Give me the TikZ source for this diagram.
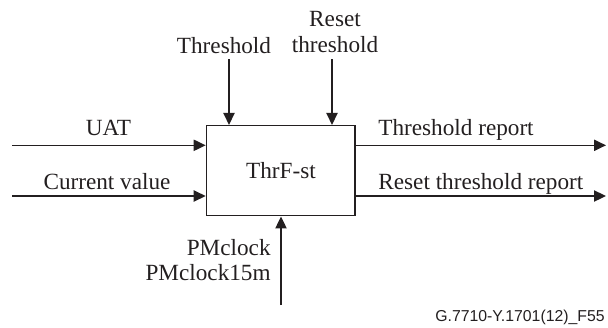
\documentclass[tikz,border=0pt]{standalone}
\usepackage{fontspec}
\setmainfont{Liberation Serif}
\newfontfamily\notefont{Liberation Sans}
\usetikzlibrary{arrows.meta}
\definecolor{ink}{HTML}{231F20}
\begin{document}
\begin{tikzpicture}[x=0.5pt,y=-0.5pt,
  every node/.style={text=ink},
  lbl/.style={anchor=base,inner sep=0pt,font=\fontsize{11.6}{14}\selectfont},
  conn/.style={draw=ink,line width=0.75pt,-{Triangle[length=6pt,width=5.6pt]}},
  fbox/.style={draw=ink,line width=0.75pt,minimum width=74.25pt,minimum height=45pt,inner sep=0pt}]
\useasboundingbox (0,0) rectangle (608,327);
\node[fbox] (thr) at (280.7,170.7) {};
\node[lbl] (thrtxt) at (281,178) {ThrF-st};
% free ends
\coordinate (uatS) at (12,145.3);
\coordinate (curS) at (12,196);
\coordinate (trE) at (606,145.3);
\coordinate (rtrE) at (606,196);
\coordinate (thS) at (229,59);
\coordinate (rthS) at (332,59);
\coordinate (pmS) at (281,305);
% connectors
\draw[conn] (uatS) -- (uatS -| thr.west);
\draw[conn] (curS) -- (curS -| thr.west);
\draw[conn] (trE -| thr.east) -- (trE);
\draw[conn] (rtrE -| thr.east) -- (rtrE);
\draw[conn] (thS) -- (thS |- thr.north);
\draw[conn] (rthS) -- (rthS |- thr.north);
\draw[conn] (pmS) -- (pmS |- thr.south);
% labels
\node[lbl] (l1) at (108.5,135) {UAT};
\node[lbl] (l2) at (107,189) {Current value};
\node[lbl] (l3) at (224,53) {Threshold};
\node[lbl] (l4) at (335,26.5) {Reset};
\node[lbl] (l5) at (335,52) {threshold};
\node[lbl,anchor=base west] (l6) at (378,135) {Threshold report};
\node[lbl,anchor=base west] (l7) at (378,189) {Reset threshold report};
\node[lbl,anchor=base east] (l8) at (271,255) {PMclock};
\node[lbl,anchor=base east] (l9) at (271,280) {PMclock15m};
\node[anchor=base east,inner sep=0pt,font=\notefont\fontsize{7.9}{9}\selectfont] (fn) at (605,321) {G.7710-Y.1701(12)\_F55};
\end{tikzpicture}
\end{document}
